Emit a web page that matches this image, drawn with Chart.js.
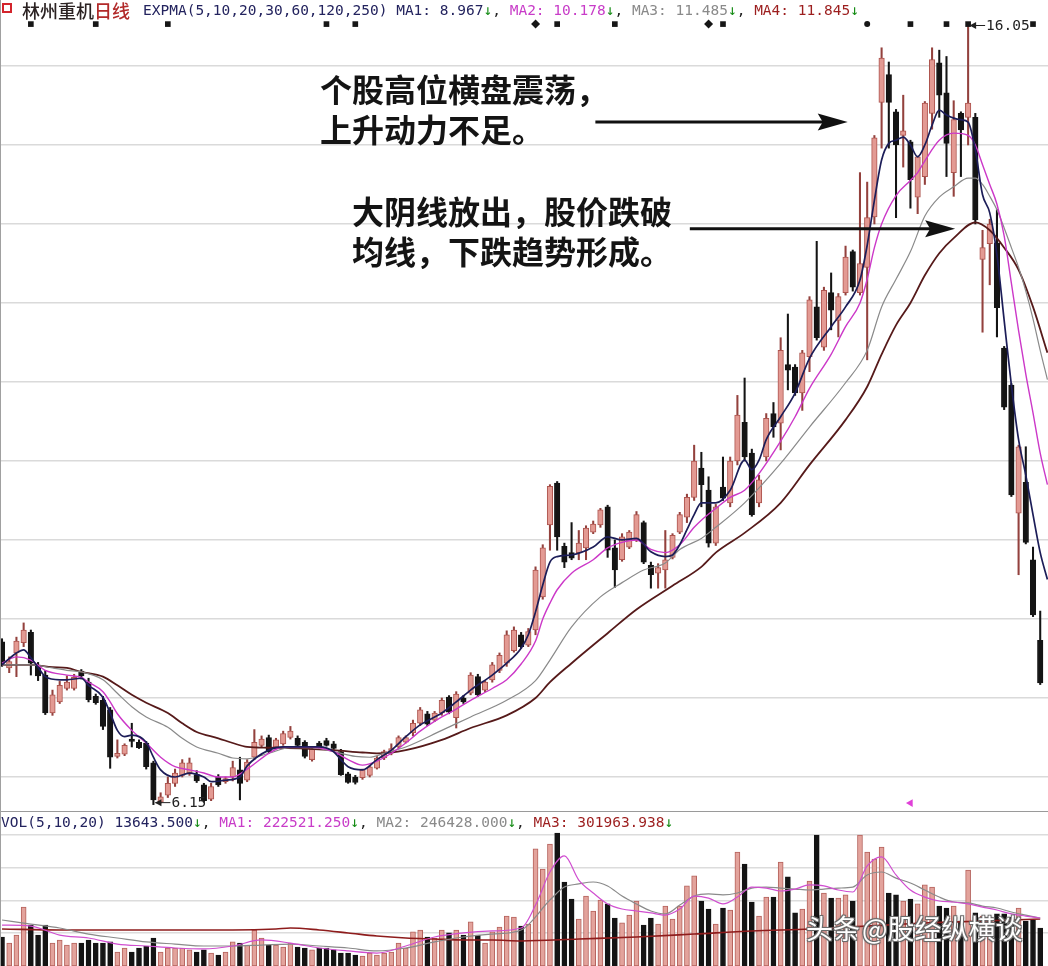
<!DOCTYPE html>
<html>
<head>
<meta charset="utf-8">
<script src="https://cdn.jsdelivr.net/npm/chart.js@4.4.1/dist/chart.umd.min.js"></script>
<style>
  html, body { margin: 0; padding: 0; background: #fff; }
  body { position: relative; width: 1048px; height: 966px; overflow: hidden; }
  canvas { position: absolute; left: 0; }
  #price { top: 0; }
  #vol { top: 812px; }
  .mono { position: absolute; font-family: "DejaVu Sans Mono", "Liberation Mono", monospace; font-size: 14.5px; line-height: 16px; white-space: pre; color: #222; }
  .navy { color: #23235e; }
  .mag { color: #c83cc8; }
  .gry { color: #8a8a8a; }
  .drd { color: #9c1e1e; }
  .grn { color: #118a11; }
  .ico { position: absolute; left: 2px; top: 3px; width: 6px; height: 6px; border: 2.5px solid #d3242c; background: #fff; }
  .name { position: absolute; left: 22px; top: 0; font-family: "Noto Sans CJK SC", sans-serif; font-size: 18px; line-height: 20px; font-weight: 500; white-space: pre; }
  .note { position: absolute; font-family: "Noto Sans CJK SC", sans-serif; font-size: 32px; line-height: 40px; font-weight: 600; color: #141414; white-space: pre; }
  .sep { position: absolute; left: 0; top: 811px; width: 1048px; height: 1px; background: #9a9a9a; }
  .edge { position: absolute; left: 0; top: 0; width: 1px; height: 966px; background: #a0a0a0; }
  .wm { position: absolute; top: 911px; font-family: "Noto Sans CJK SC", sans-serif; font-size: 27px; line-height: 34px; color: #fff; white-space: pre;
        text-shadow: -1px -1px 0 #6a6a6a, 1px -1px 0 #6a6a6a, -1px 1px 0 #6a6a6a, 1px 1px 0 #6a6a6a, 0 0 3px rgba(0,0,0,0.55); }
</style>
</head>
<body>
<canvas id="price" width="1048" height="810"></canvas>
<canvas id="vol" width="1048" height="154"></canvas>
<div class="sep"></div>
<div class="edge"></div>

<div class="ico"></div>
<div class="name"><span style="color:#2b2222">林州重机</span><span style="color:#b22a2a">日线</span></div>
<div class="mono" style="left:143px; top:2px;"><span class="navy">EXPMA(5,10,20,30,60,120,250) MA1: 8.967</span><span class="grn">↓</span>, <span class="mag">MA2: 10.178</span><span class="grn">↓</span>, <span class="gry">MA3: 11.485</span><span class="grn">↓</span>, <span class="drd">MA4: 11.845</span><span class="grn">↓</span></div>
<div class="mono" style="left:1px; top:814px;"><span class="navy">VOL(5,10,20) 13643.500</span><span class="grn">↓</span>, <span class="mag">MA1: 222521.250</span><span class="grn">↓</span>, <span class="gry">MA2: 246428.000</span><span class="grn">↓</span>, <span class="drd">MA3: 301963.938</span><span class="grn">↓</span></div>

<div class="note" style="left:320px; top:68px;">个股高位横盘震荡，
上升动力不足。</div>
<div class="note" style="left:352px; top:190px;">大阴线放出，股价跌破
均线，下跌趋势形成。</div>

<div class="wm" style="left:806px;">头条</div>
<div class="wm" style="left:862px;">@股经纵横谈</div>

<script>
// ---- daily bars: open / high / low / close ----
const OPEN = [
  8.21, 7.88, 8.07, 8.20, 8.33, 7.90, 7.79, 7.31, 7.45, 7.62,
  7.62, 7.84, 7.70, 7.52, 7.47, 7.35, 6.76, 6.79, 6.98, 6.94,
  6.93, 6.68, 6.18, 6.27, 6.42, 6.52, 6.55, 6.53, 6.40, 6.22,
  6.50, 6.44, 6.50, 6.59, 6.46, 6.75, 6.90, 7.00, 6.88, 6.92,
  7.00, 6.99, 6.94, 6.72, 6.93, 6.96, 6.92, 6.82, 6.54, 6.50,
  6.49, 6.52, 6.61, 6.74, 6.80, 6.88, 6.94, 7.06, 7.18, 7.30,
  7.22, 7.31, 7.51, 7.25, 7.50, 7.56, 7.77, 7.60, 7.73, 7.85,
  7.94, 8.10, 8.30, 8.17, 8.36, 8.78, 9.69, 10.22, 9.42, 9.34,
  9.34, 9.40, 9.60, 9.69, 9.92, 9.40, 9.25, 9.41, 9.50, 9.72,
  9.18, 9.08, 9.12, 9.28, 9.60, 9.79, 10.04, 10.41, 10.13, 9.46,
  10.17, 9.97, 10.50, 10.99, 10.60, 9.97, 10.55, 11.10, 10.98, 11.72,
  11.69, 11.36, 11.82, 12.45, 11.94, 12.63, 12.28, 12.63, 13.15, 12.63,
  12.95, 13.59, 15.04, 15.39, 14.92, 14.62, 14.54, 13.84, 14.10, 14.90,
  15.54, 15.16, 14.15, 14.90, 14.85, 14.85, 13.05, 13.25, 13.26, 11.93,
  11.46, 9.84, 10.23, 9.25, 8.23
];
const HIGH = [
  8.25, 8.02, 8.27, 8.45, 8.36, 7.95, 7.85, 7.60, 7.71, 7.78,
  7.80, 7.86, 7.75, 7.55, 7.52, 7.38, 6.97, 6.92, 7.18, 6.97,
  6.95, 6.70, 6.30, 6.50, 6.60, 6.72, 6.74, 6.58, 6.42, 6.42,
  6.53, 6.50, 6.70, 6.75, 6.72, 7.10, 7.02, 7.03, 6.99, 7.08,
  7.14, 7.02, 6.96, 6.87, 6.95, 6.99, 6.95, 6.85, 6.56, 6.52,
  6.60, 6.65, 6.76, 6.84, 6.92, 7.02, 7.02, 7.22, 7.38, 7.33,
  7.33, 7.50, 7.53, 7.58, 7.53, 7.82, 7.80, 7.72, 7.95, 8.07,
  8.35, 8.40, 8.33, 8.38, 9.16, 9.44, 10.20, 10.24, 9.46, 9.72,
  9.62, 9.68, 9.74, 9.90, 9.94, 9.50, 9.58, 9.62, 9.86, 9.74,
  9.22, 9.20, 9.62, 9.58, 9.85, 10.08, 10.70, 10.61, 10.30, 9.95,
  10.55, 10.55, 11.33, 11.55, 10.65, 10.32, 11.10, 11.24, 12.06, 12.36,
  11.72, 11.90, 12.58, 13.28, 12.70, 12.88, 12.62, 13.22, 13.17, 14.15,
  14.03, 14.62, 15.73, 15.55, 14.95, 15.13, 14.56, 14.36, 15.05, 15.73,
  15.70, 15.62, 15.06, 14.92, 16.05, 14.90, 13.42, 13.56, 13.68, 11.95,
  11.48, 10.70, 10.68, 9.41, 8.60
];
const LOW = [
  7.90, 7.82, 7.77, 8.15, 7.79, 7.72, 7.29, 7.28, 7.43, 7.60,
  7.60, 7.74, 7.45, 7.42, 7.10, 6.61, 6.74, 6.77, 6.88, 6.86,
  6.60, 6.15, 6.17, 6.24, 6.38, 6.50, 6.52, 6.43, 6.18, 6.20,
  6.38, 6.42, 6.45, 6.21, 6.44, 6.72, 6.88, 6.80, 6.86, 6.90,
  6.98, 6.89, 6.74, 6.70, 6.85, 6.89, 6.85, 6.52, 6.42, 6.41,
  6.47, 6.50, 6.60, 6.72, 6.78, 6.86, 6.93, 7.02, 7.15, 7.15,
  7.20, 7.28, 7.30, 7.12, 7.43, 7.54, 7.52, 7.58, 7.70, 7.82,
  7.90, 8.08, 8.13, 8.15, 8.30, 8.75, 9.37, 9.37, 9.15, 9.25,
  9.25, 9.25, 9.58, 9.66, 9.28, 8.90, 9.23, 9.39, 9.48, 9.20,
  8.89, 8.89, 8.89, 9.26, 9.58, 9.72, 10.00, 9.92, 9.41, 9.43,
  10.00, 9.92, 10.45, 10.50, 9.80, 9.92, 10.50, 10.80, 10.64, 11.40,
  11.33, 11.14, 11.63, 12.03, 11.90, 12.16, 12.07, 12.60, 12.65, 12.60,
  11.78, 13.50, 14.46, 14.46, 13.58, 14.22, 13.70, 13.63, 14.00, 14.70,
  14.85, 14.10, 13.85, 14.10, 14.50, 13.50, 12.13, 12.73, 12.07, 11.15,
  10.05, 9.06, 9.45, 8.53, 7.67
];
const CLOSE = [
  7.94, 7.96, 8.22, 8.36, 7.94, 7.78, 7.31, 7.54, 7.66, 7.70,
  7.76, 7.78, 7.48, 7.44, 7.14, 6.75, 6.80, 6.90, 6.95, 6.87,
  6.63, 6.21, 6.25, 6.42, 6.55, 6.68, 6.68, 6.45, 6.20, 6.38,
  6.40, 6.48, 6.62, 6.42, 6.69, 6.94, 6.98, 6.82, 6.97, 7.05,
  7.08, 6.90, 6.76, 6.85, 6.87, 6.90, 6.86, 6.53, 6.43, 6.43,
  6.59, 6.63, 6.74, 6.82, 6.86, 7.00, 7.00, 7.18, 7.35, 7.17,
  7.31, 7.47, 7.32, 7.55, 7.45, 7.79, 7.54, 7.70, 7.92, 8.04,
  8.30, 8.36, 8.15, 8.34, 9.12, 9.40, 10.18, 9.54, 9.22, 9.27,
  9.46, 9.65, 9.70, 9.88, 9.37, 9.12, 9.54, 9.60, 9.82, 9.22,
  9.06, 9.15, 9.25, 9.56, 9.82, 10.04, 10.50, 10.20, 9.46, 9.92,
  10.03, 10.50, 11.08, 10.55, 9.82, 10.26, 11.04, 10.93, 11.90, 11.65,
  11.36, 11.87, 12.54, 12.06, 12.66, 12.41, 12.58, 13.08, 12.70, 13.00,
  13.58, 14.59, 15.60, 15.04, 14.50, 14.68, 14.06, 14.35, 15.03, 15.58,
  15.13, 14.52, 14.82, 14.69, 15.03, 13.55, 13.20, 13.50, 12.44, 11.18,
  10.07, 10.68, 9.47, 8.55, 7.69
];

// ---- daily volume ----
const VOLUME = [
  177000, 140000, 189000, 360000, 250000, 189000, 250000, 140000, 159000, 128000,
  140000, 140000, 159000, 140000, 140000, 147000,  85000, 110000,  85000, 110000,
  122000, 171000,  85000, 110000, 110000, 110000,  98000,  85000,  98000,  79000,
   67000,  85000, 147000, 140000, 128000, 220000, 171000, 128000, 128000, 116000,
  140000, 116000, 110000,  98000, 110000, 110000,  98000,  79000,  79000,  67000,
   61000,  79000,  67000,  79000,  85000, 140000, 110000, 208000, 220000, 177000,
  171000, 220000, 202000, 220000, 189000, 269000, 189000, 140000, 208000, 238000,
  305000, 299000, 244000, 256000, 715000, 592000, 745000, 812000, 513000, 409000,
  287000, 427000, 336000, 403000, 379000, 293000, 263000, 311000, 397000, 250000,
  293000, 256000, 366000, 287000, 366000, 489000, 550000, 397000, 348000, 256000,
  354000, 342000, 696000, 623000, 391000, 305000, 421000, 421000, 635000, 544000,
  324000, 348000, 519000, 800000, 446000, 415000, 415000, 434000, 397000, 800000,
  696000, 653000, 727000, 446000, 434000, 397000, 409000, 379000, 495000, 482000,
  366000, 354000, 366000, 275000, 586000, 324000, 305000, 293000, 318000, 318000,
  299000, 354000, 275000, 281000, 232000
];

// ---- EXPMA lines, [bar index, value] ----
const MA1_PTS = [[0,7.92],[2,8.07],[3,8.11],[4,8.01],[5,7.89],[6,7.77],[8,7.73],[9,7.73],[11,7.75],[12,7.66],[14,7.51],[15,7.31],[16,7.09],[17,7.01],[18,7.03],[20,6.94],[21,6.75],[22,6.59],[24,6.50],[26,6.55],[28,6.50],[29,6.44],[31,6.46],[33,6.50],[34,6.64],[37,6.84],[39,6.88],[41,6.88],[44,6.88],[46,6.82],[47,6.72],[48,6.63],[50,6.59],[52,6.72],[54,6.84],[56,7.01],[58,7.16],[61,7.31],[63,7.45],[65,7.60],[68,7.79],[70,7.94],[72,8.13],[73,8.30],[74,8.59],[75,8.93],[76,9.22],[77,9.29],[79,9.31],[82,9.41],[84,9.54],[86,9.50],[88,9.52],[90,9.35],[92,9.29],[93,9.31],[94,9.44],[95,9.63],[96,9.82],[97,9.97],[99,9.97],[101,10.13],[103,10.51],[104,10.39],[105,10.51],[106,10.77],[108,11.06],[110,11.36],[112,11.80],[115,12.20],[117,12.45],[119,12.79],[120,13.23],[121,13.80],[122,14.31],[123,14.52],[124,14.56],[125,14.60],[126,14.50],[127,14.35],[128,14.50],[129,14.75],[130,14.94],[131,14.88],[132,14.84],[133,14.82],[134,14.79],[135,14.44],[136,13.87],[137,13.64],[138,13.11],[139,12.28],[140,11.46],[141,10.77],[142,10.32],[143,9.82],[144,9.34],[145,9.00]];
const MA2_PTS = [[0,7.94],[2,8.02],[4,7.98],[6,7.85],[9,7.79],[11,7.76],[12,7.70],[14,7.58],[15,7.45],[16,7.30],[18,7.09],[20,6.93],[22,6.75],[24,6.63],[26,6.59],[28,6.55],[30,6.50],[32,6.50],[34,6.60],[37,6.80],[39,6.88],[42,6.88],[44,6.87],[46,6.82],[48,6.72],[50,6.65],[52,6.70],[54,6.80],[56,6.93],[58,7.08],[61,7.26],[63,7.36],[65,7.47],[68,7.62],[70,7.73],[72,7.93],[74,8.22],[75,8.50],[76,8.70],[77,8.87],[79,9.08],[82,9.25],[84,9.40],[86,9.47],[88,9.50],[90,9.38],[92,9.34],[94,9.44],[96,9.66],[97,9.75],[99,9.90],[101,10.04],[103,10.13],[105,10.34],[108,10.75],[110,11.06],[112,11.42],[115,11.85],[117,12.20],[119,12.50],[120,12.80],[121,13.20],[122,13.50],[124,13.86],[126,14.05],[127,14.15],[128,14.30],[130,14.56],[132,14.65],[134,14.62],[135,14.50],[136,14.25],[137,14.00],[138,13.75],[139,13.35],[140,12.75],[141,12.15],[142,11.60],[143,11.11],[144,10.60],[145,10.20]];
const MA3_PTS = [[0,7.92],[4,7.92],[7,7.88],[9,7.85],[11,7.83],[14,7.73],[16,7.56],[18,7.39],[20,7.26],[23,7.13],[25,6.99],[27,6.88],[30,6.80],[32,6.74],[34,6.73],[37,6.80],[40,6.87],[43,6.87],[46,6.82],[49,6.76],[51,6.75],[53,6.80],[56,6.88],[61,7.09],[65,7.26],[70,7.47],[74,7.72],[76,7.98],[79,8.40],[83,8.78],[86,8.96],[89,9.12],[92,9.21],[94,9.38],[97,9.52],[99,9.66],[103,9.97],[108,10.47],[112,10.93],[117,11.49],[120,11.90],[122,12.45],[124,12.80],[126,13.15],[128,13.60],[130,13.84],[132,13.97],[134,14.08],[135,14.08],[136,14.00],[137,13.85],[138,13.68],[139,13.45],[140,13.20],[141,12.95],[142,12.65],[143,12.30],[144,11.90],[145,11.53]];
const MA4_PTS = [[0,7.92],[4,7.92],[7,7.89],[9,7.88],[11,7.83],[14,7.77],[16,7.66],[18,7.54],[20,7.44],[23,7.31],[25,7.18],[27,7.07],[30,6.99],[32,6.93],[34,6.88],[37,6.87],[42,6.86],[46,6.84],[50,6.81],[52,6.80],[56,6.84],[61,6.97],[65,7.12],[70,7.28],[74,7.50],[76,7.70],[79,7.94],[84,8.32],[88,8.62],[93,8.92],[97,9.16],[99,9.34],[103,9.59],[108,9.97],[112,10.45],[117,11.02],[120,11.44],[122,11.85],[124,12.22],[126,12.50],[128,12.85],[130,13.13],[132,13.32],[135,13.52],[137,13.42],[139,13.20],[141,12.92],[143,12.45],[145,11.87]];

// ---- volume moving averages, [bar index, value] ----
const VOL_MA1_PTS = [[0,250000],[4,244000],[8,189000],[12,171000],[16,134000],[20,122000],[24,110000],[28,104000],[32,122000],[36,159000],[40,140000],[44,110000],[48,92000],[52,79000],[56,122000],[60,177000],[64,202000],[68,214000],[72,232000],[74,372000],[76,574000],[78,672000],[80,525000],[82,446000],[84,379000],[86,348000],[88,336000],[90,324000],[92,311000],[94,348000],[96,427000],[98,415000],[100,379000],[102,421000],[104,482000],[106,476000],[108,458000],[110,470000],[112,495000],[114,489000],[116,464000],[118,452000],[120,611000],[122,666000],[124,556000],[126,464000],[128,421000],[130,397000],[132,391000],[134,379000],[136,360000],[138,342000],[140,318000],[142,305000],[144,293000]];
const VOL_MA2_PTS = [[0,281000],[4,256000],[8,232000],[12,195000],[16,171000],[20,147000],[24,134000],[28,122000],[32,122000],[36,128000],[40,134000],[44,122000],[48,110000],[52,92000],[56,110000],[60,147000],[64,177000],[68,195000],[72,220000],[76,403000],[78,482000],[80,501000],[82,513000],[84,489000],[86,427000],[88,379000],[90,336000],[92,318000],[94,372000],[96,427000],[98,440000],[100,434000],[102,446000],[104,476000],[106,482000],[108,476000],[110,470000],[112,464000],[114,470000],[116,476000],[118,482000],[120,556000],[122,574000],[124,537000],[126,507000],[128,464000],[130,421000],[132,391000],[134,385000],[136,366000],[138,354000],[140,330000],[142,311000],[144,293000]];
const VOL_MA3_PTS = [[0,226000],[8,220000],[16,220000],[24,220000],[32,220000],[38,226000],[40,232000],[44,220000],[48,202000],[52,183000],[56,171000],[60,165000],[64,159000],[68,159000],[72,153000],[80,165000],[88,177000],[96,195000],[104,214000],[112,226000],[120,244000],[128,263000],[136,275000],[144,287000]];

// ---- event markers along the top row (bar indices) ----
const EVENT_SQUARES = [4, 13, 23, 45, 49, 77, 85, 100, 126, 131, 134, 143];
const EVENT_DIAMONDS = [74, 98];
const EVENT_DOTS = [120];
const CURSOR_BAR = [126];

// ---- horizontal grid levels ----
const PRICE_GRID = [6.5, 7.5, 8.5, 9.5, 10.5, 11.5, 12.5, 13.5, 14.5, 15.5];
const VOL_GRID = [200000, 400000, 600000, 800000];

// ---- look ----
const UP_FILL = '#e39a93', UP_EDGE = '#ad544e', UP_WICK = '#93413d';
const DOWN = '#141414';
const X_MIN = -0.28, X_MAX = 145.08;
const EVENT_LEVEL = 16.03;
const CURSOR_LEVEL = 6.17;

const isUp = i => CLOSE[i] >= OPEN[i];
const pts = arr => arr.map(([x, y]) => ({ x, y }));
const atTop = arr => arr.map(i => ({ x: i, y: EVENT_LEVEL }));

// annotation arrows and high/low tags
const decorPlugin = {
  id: 'decor',
  afterDatasetsDraw(chart, args, opts) {
    const { ctx, scales: { x, y } } = chart;
    ctx.save();
    for (const a of opts.arrows || []) {
      const x0 = x.getPixelForValue(a.from), x1 = x.getPixelForValue(a.to), yy = y.getPixelForValue(a.level);
      ctx.strokeStyle = '#111'; ctx.fillStyle = '#111'; ctx.lineWidth = 3;
      ctx.beginPath(); ctx.moveTo(x0, yy); ctx.lineTo(x1 - 24, yy); ctx.stroke();
      ctx.beginPath();
      ctx.moveTo(x1, yy); ctx.lineTo(x1 - 30, yy - 8.5); ctx.lineTo(x1 - 25, yy); ctx.lineTo(x1 - 30, yy + 8.5);
      ctx.closePath(); ctx.fill();
    }
    for (const t of opts.tags || []) {
      const px = x.getPixelForValue(t.index), py = y.getPixelForValue(t.value) + t.dy;
      ctx.strokeStyle = '#222'; ctx.fillStyle = '#222'; ctx.lineWidth = 1;
      ctx.beginPath(); ctx.moveTo(px + 2, py); ctx.lineTo(px + 17, py); ctx.stroke();
      ctx.beginPath(); ctx.moveTo(px + 1.5, py); ctx.lineTo(px + 8, py - 3.5); ctx.lineTo(px + 8, py + 3.5); ctx.closePath(); ctx.fill();
      ctx.font = '14.5px "DejaVu Sans Mono", monospace';
      ctx.textBaseline = 'middle'; ctx.textAlign = 'left';
      ctx.fillText(t.value.toFixed(2), px + 18, py + 1);
    }
    ctx.restore();
  }
};

const gridOpts = color => ({ color, lineWidth: 1.6, drawTicks: false });

new Chart(document.getElementById('price'), {
  type: 'bar',
  data: {
    datasets: [
      { type: 'line', data: pts(MA1_PTS), borderColor: '#1c1d58', borderWidth: 1.7, pointRadius: 0, cubicInterpolationMode: 'monotone', order: 1 },
      { type: 'line', data: pts(MA2_PTS), borderColor: '#cc38c8', borderWidth: 1.4, pointRadius: 0, cubicInterpolationMode: 'monotone', order: 2 },
      { type: 'line', data: pts(MA3_PTS), borderColor: '#8a8a8a', borderWidth: 1.2, pointRadius: 0, cubicInterpolationMode: 'monotone', order: 3 },
      { type: 'line', data: pts(MA4_PTS), borderColor: '#561a1a', borderWidth: 1.8, pointRadius: 0, cubicInterpolationMode: 'monotone', order: 4 },
      { type: 'scatter', data: atTop(EVENT_SQUARES), pointStyle: 'rect', pointRadius: 4, backgroundColor: '#161616', borderWidth: 0, order: 0 },
      { type: 'scatter', data: atTop(EVENT_DIAMONDS), pointStyle: 'rectRot', pointRadius: 4.5, backgroundColor: '#161616', borderWidth: 0, order: 0 },
      { type: 'scatter', data: atTop(EVENT_DOTS), pointStyle: 'circle', pointRadius: 3, backgroundColor: '#161616', borderWidth: 0, order: 0 },
      { type: 'scatter', data: CURSOR_BAR.map(i => ({ x: i, y: CURSOR_LEVEL })), pointStyle: 'triangle', rotation: 270, pointRadius: 4.5, backgroundColor: '#e040d8', borderWidth: 0, order: 0 },
      {
        type: 'bar', order: 5, grouped: false, barThickness: 5.5, minBarLength: 1.5, borderSkipped: false, borderWidth: 1,
        data: OPEN.map((o, i) => ({ x: i, y: [o, CLOSE[i]] })),
        backgroundColor: OPEN.map((o, i) => isUp(i) ? UP_FILL : DOWN),
        borderColor: OPEN.map((o, i) => isUp(i) ? UP_EDGE : DOWN)
      },
      {
        type: 'bar', order: 6, grouped: false, barThickness: 1.4, borderWidth: 0,
        data: LOW.map((l, i) => ({ x: i, y: [l, HIGH[i]] })),
        backgroundColor: LOW.map((l, i) => isUp(i) ? UP_WICK : DOWN)
      }
    ]
  },
  options: {
    responsive: false, animation: false, events: [],
    layout: { padding: 0, autoPadding: false },
    plugins: {
      legend: { display: false }, tooltip: { enabled: false },
      decor: {
        arrows: [
          { from: 82.3, to: 117.3, level: 14.79 },
          { from: 95.4, to: 132.2, level: 13.44 }
        ],
        tags: [
          { index: 134, value: HIGH[134], dy: 3 },
          { index: 21, value: LOW[21], dy: -2 }
        ]
      }
    },
    scales: {
      x: { type: 'linear', min: X_MIN, max: X_MAX, offset: false, display: false },
      y: {
        type: 'linear', min: 6.082, max: 16.335, position: 'left',
        ticks: { display: false }, border: { display: false }, grid: gridOpts('#dadada'),
        afterBuildTicks: s => { s.ticks = PRICE_GRID.map(v => ({ value: v })); }
      }
    }
  },
  plugins: [decorPlugin]
});

new Chart(document.getElementById('vol'), {
  type: 'bar',
  data: {
    datasets: [
      { type: 'line', data: pts(VOL_MA1_PTS), borderColor: '#d04ed0', borderWidth: 1.2, pointRadius: 0, cubicInterpolationMode: 'monotone', order: 1 },
      { type: 'line', data: pts(VOL_MA2_PTS), borderColor: '#8a8a8a', borderWidth: 1.2, pointRadius: 0, cubicInterpolationMode: 'monotone', order: 2 },
      { type: 'line', data: pts(VOL_MA3_PTS), borderColor: '#8e1c1c', borderWidth: 1.6, pointRadius: 0, cubicInterpolationMode: 'monotone', order: 3 },
      {
        type: 'bar', order: 5, grouped: false, barThickness: 5, borderSkipped: false, borderWidth: 1,
        data: VOLUME.map((v, i) => ({ x: i, y: v })),
        backgroundColor: VOLUME.map((v, i) => isUp(i) ? '#e3a39c' : DOWN),
        borderColor: VOLUME.map((v, i) => isUp(i) ? '#b5625c' : DOWN)
      }
    ]
  },
  options: {
    responsive: false, animation: false, events: [],
    layout: { padding: 0, autoPadding: false },
    plugins: { legend: { display: false }, tooltip: { enabled: false } },
    scales: {
      x: { type: 'linear', min: X_MIN, max: X_MAX, offset: false, display: false },
      y: {
        type: 'linear', min: 0, max: 940500, position: 'left',
        ticks: { display: false }, border: { display: false }, grid: gridOpts('#dcdcdc'),
        afterBuildTicks: s => { s.ticks = VOL_GRID.map(v => ({ value: v })); }
      }
    }
  }
});
</script>
</body>
</html>
